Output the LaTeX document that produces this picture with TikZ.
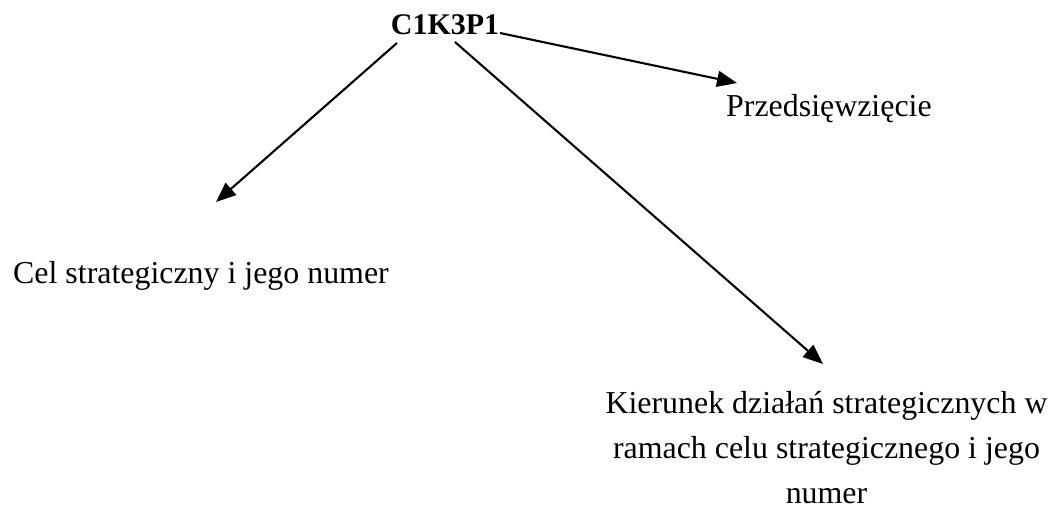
\documentclass[tikz,border=0pt]{standalone}
\usepackage{fontspec}
\setmainfont{Liberation Serif}
\usetikzlibrary{arrows.meta}
\begin{document}
\begin{tikzpicture}[x=1pt,y=-1pt,
  lbl/.style={inner sep=0pt,font=\fontsize{31.9}{45}\selectfont},
  conn/.style={line width=2.1pt,-{Triangle[length=20pt,width=16pt]}}]
\useasboundingbox (0,0) rectangle (1050,508);
\node[lbl,anchor=base,font=\fontsize{30}{36}\selectfont\bfseries] (code) at (445,35) {C1K3P1};
\node[lbl,anchor=base west] (prz) at (726,117) {Przedsięwzięcie};
\node[lbl,anchor=base west] (cel) at (13,283) {Cel strategiczny i jego numer};
\node[lbl,align=center,anchor=north] (kier) at (826.5,391) {Kierunek działań strategicznych w\\ramach celu strategicznego i jego\\numer};
\coordinate (s1) at (397,43);
\coordinate (t1) at (216,202);
\coordinate (s2) at (500,33);
\coordinate (t2) at (737,83);
\coordinate (s3) at (455,42);
\coordinate (t3) at (823,364);
\draw[conn] (s1) -- (t1);
\draw[conn] (s2) -- (t2);
\draw[conn] (s3) -- (t3);
\end{tikzpicture}
\end{document}
